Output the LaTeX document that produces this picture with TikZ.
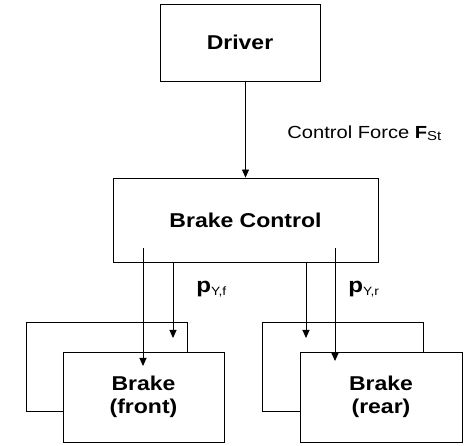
\documentclass[tikz,border=0pt]{standalone}
\usepackage{fontspec}
\setmainfont{Liberation Sans}[FakeStretch=1.15]
\usetikzlibrary{arrows.meta,positioning}

\begin{document}
\begin{tikzpicture}[x=1pt,y=-1pt,>={Triangle[length=8pt,width=7pt]},line width=0.9pt,
	blk/.style={draw,rectangle,fill=white,align=center,inner sep=0pt,font=\bfseries\fontsize{20}{23}\selectfont},
	lbl/.style={anchor=base west,inner sep=0pt,font=\fontsize{17.5}{20}\selectfont}]
	\useasboundingbox (0,0) rectangle (467,446);
	% boxes
	\node[blk, minimum width=160pt, minimum height=77pt] (drv) at (240,42.5) {Driver};
	\node[blk, minimum width=265pt, minimum height=84pt] (bc) at (245.5,220) {Brake Control};
	\node[blk, minimum width=161pt, minimum height=89pt] (frontbk) at (106.5,366.5) {};
	\node[blk, minimum width=161pt, minimum height=90pt] (front) at (143.5,397) {Brake\\(front)};
	\node[blk, minimum width=161pt, minimum height=89pt] (rearbk) at (342.5,366.5) {};
	\node[blk, minimum width=162pt, minimum height=90pt] (rear) at (381,397) {Brake\\(rear)};
	% labels
	\node[lbl] (force) at (287,139) {Control Force \textbf{F}\raisebox{-2pt}{\fontsize{13}{13}\selectfont St}};
	\node[lbl, font=\fontsize{21}{23}\selectfont] (pf) at (196,293) {\textbf{p}\raisebox{-3pt}{\fontsize{12}{12}\selectfont Y,f}};
	\node[lbl, font=\fontsize{21}{23}\selectfont] (pr) at (348,293) {\textbf{p}\raisebox{-3pt}{\fontsize{12}{12}\selectfont Y,r}};
	% arrow ends
	\coordinate (fl0) at (143,248);
	\coordinate (fl1) at (143,366);
	\coordinate (fs1) at (173,338);
	\coordinate (rs1) at (306,338);
	\coordinate (rl0) at (335,248);
	\coordinate (rl1) at (335,361);
	\draw[->] (drv.south -| bc.north) -- (bc.north);
	\draw[->] (fl0) -- (fl1);
	\draw[->] (bc.south -| fs1) -- (fs1);
	\draw[->] (bc.south -| rs1) -- (rs1);
	\draw[->] (rl0) -- (rl1);
\end{tikzpicture}
\end{document}
